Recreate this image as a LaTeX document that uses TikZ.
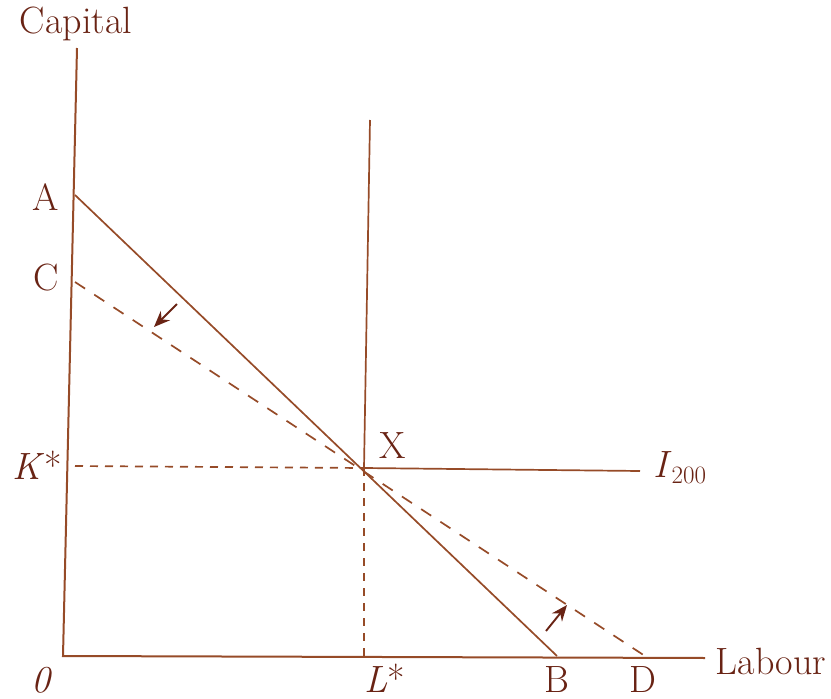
\documentclass[tikz,border=0pt]{standalone}
\usepackage{fontspec}
\setmainfont{Latin Modern Roman}
\usetikzlibrary{arrows.meta}
\definecolor{ln}{RGB}{150,75,40}
\definecolor{tx}{RGB}{105,35,20}
\begin{document}
\begin{tikzpicture}[x=1pt,y=-1pt,
  axis/.style={draw=ln,line width=2pt},
  solidline/.style={draw=ln,line width=1.7pt},
  dashline/.style={draw=ln,line width=1.7pt,dash pattern=on 12pt off 11pt},
  guide/.style={draw=ln,line width=1.7pt,dash pattern=on 8pt off 7pt},
  lbl/.style={text=tx,font=\fontsize{38}{42}\selectfont,inner sep=0pt},
  shiftarrow/.style={draw=tx,line width=1.9pt,-{Stealth[length=16pt,width=13pt]}}]
\useasboundingbox (0,0) rectangle (831,699);
% points
\coordinate (O) at (63,656);
\coordinate (Ytop) at (77,48);
\coordinate (Xend) at (705,658);
\coordinate (A) at (75,195);
\coordinate (C) at (75,282);
\coordinate (K) at (75,466);
\coordinate (B) at (557,656);
\coordinate (D) at (645,656);
\coordinate (X) at (364,468);
\coordinate (Vtop) at (370,120);
\coordinate (Hend) at (640,471);
\coordinate (L) at (364,656);
% axes
\draw[axis] (Ytop) -- (O) -- (Xend);
% budget lines
\draw[solidline] (A) -- (B);
\draw[dashline] (C) -- (D);
% isoquant
\draw[solidline] (Vtop) -- (X) -- (Hend);
% guides
\draw[guide] (K) -- (X);
\draw[guide] (X) -- (L);
% shift arrows
\coordinate (a1s) at (177,304);
\coordinate (a1e) at (154,327);
\coordinate (a2s) at (546,631);
\coordinate (a2e) at (567,605);
\draw[shiftarrow] (a1s) -- (a1e);
\draw[shiftarrow] (a2s) -- (a2e);
% labels
\node[lbl] (tCap) at (76,24) {Capital};
\node[lbl] (tLab) at (771,661) {Labour};
\node[lbl] (tA) at (46,197) {A};
\node[lbl] (tC) at (46,278) {C};
\node[lbl] (tK) at (37,465) {\textit{K}*};
\node[lbl,anchor=base] (tO) at (42,692) {\textit{0}};
\node[lbl,anchor=base] (tL) at (385,692) {\textit{L}*};
\node[lbl,anchor=base] (tB) at (557,692) {B};
\node[lbl,anchor=base] (tD) at (643,692) {D};
\node[lbl] (tX) at (393,446) {X};
\node[lbl,anchor=west] (tI) at (653,468) {\textit{I}\raisebox{-0.35ex}{\fontsize{25}{28}\selectfont 200}};
\end{tikzpicture}
\end{document}
